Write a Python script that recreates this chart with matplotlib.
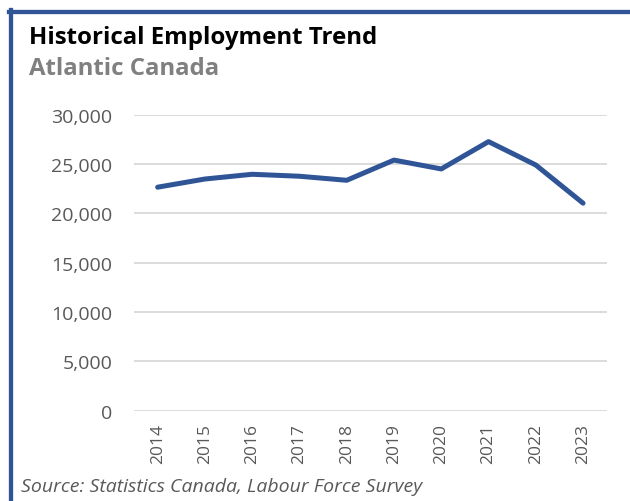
import matplotlib
matplotlib.use("Agg")
import matplotlib.pyplot as plt
from matplotlib.lines import Line2D
from matplotlib.ticker import FuncFormatter

years = ["2014", "2015", "2016", "2017", "2018", "2019", "2020", "2021", "2022", "2023"]
employment = [22650, 23480, 23960, 23760, 23350, 25400, 24500, 27270, 24900, 21030]
y_ticks = [0, 5000, 10000, 15000, 20000, 25000, 30000]

title = "Historical Employment Trend"
subtitle = "Atlantic Canada"
source = "Source: Statistics Canada, Labour Force Survey"

W, H = 630, 502
fig = plt.figure(figsize=(W / 100, H / 100), dpi=100)
fig.patch.set_facecolor("white")
plt.rcParams["font.family"] = ["Open Sans", "DejaVu Sans"]

blue = "#2F5597"
grey_txt = "#595959"

# axes placed in pixel units
left, right, top, bottom = 134, 606.7, 115.7, 411.6
ax = fig.add_axes([left / W, 1 - bottom / H, (right - left) / W, (bottom - top) / H])
x = list(range(len(years)))
ax.plot(x, employment, color=blue, linewidth=3.6, solid_capstyle="round",
        solid_joinstyle="round", zorder=3, clip_on=False)
ax.set_xlim(-0.5, len(years) - 0.5)
ax.set_ylim(0, 30000)
ax.set_yticks(y_ticks)
ax.yaxis.set_major_formatter(FuncFormatter(lambda v, p: f"{int(v):,}"))
ax.set_xticks(x)
ax.set_xticklabels(years, rotation=90)
ax.grid(axis="y", color="#D9D9D9", linewidth=1.3, zorder=0)
for s in ax.spines.values():
    s.set_visible(False)
ax.tick_params(axis="y", length=0, colors=grey_txt, labelsize=14, pad=15.5)
ax.tick_params(axis="x", length=0, colors=grey_txt, labelsize=12.5, pad=9)

# frame lines along top and left edges
fig.add_artist(Line2D([10.5 / W, 10.5 / W], [0, 1 - 11 / H], transform=fig.transFigure,
                      color=blue, linewidth=3.1))
fig.add_artist(Line2D([8.5 / W, 1], [1 - 13 / H, 1 - 13 / H], transform=fig.transFigure,
                      color=blue, linewidth=3.1))

fig.text(29 / W, 1 - 38 / H, title, fontsize=17.3, fontweight="bold", color="black",
         va="center", ha="left")
fig.text(29 / W, 1 - 69 / H, subtitle, fontsize=17.3, fontweight="bold", color="#808080",
         va="center", ha="left")
fig.text(21 / W, 1 - 487 / H, source, fontsize=14, fontstyle="italic", color=grey_txt,
         va="center", ha="left")

fig.savefig("out.png", dpi=100, facecolor="white")
